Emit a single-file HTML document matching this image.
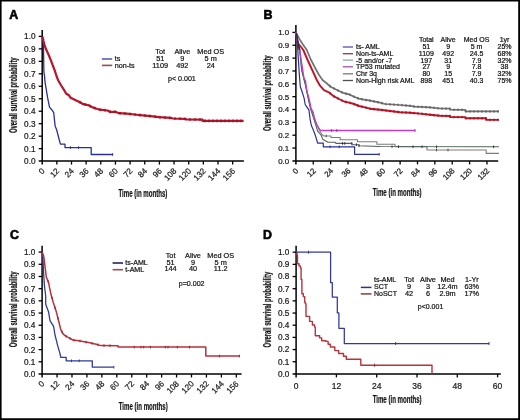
<!DOCTYPE html><html><head><meta charset="utf-8"><style>html,body{margin:0;padding:0;background:#fff;}#w{position:relative;width:520px;height:420px;overflow:hidden;}svg{display:block;will-change:transform;-webkit-font-smoothing:antialiased;}#m{filter:blur(0.45px);}#o{position:absolute;left:0;top:0;}</style></head><body><div id="w">
<svg id="m" width="520" height="420" viewBox="0 0 520 420" font-family='"Liberation Sans", sans-serif'>
<rect x="0" y="0" width="520" height="420" fill="#fff"/>
<text x="9.2" y="18.6" font-size="12.4" text-anchor="start" font-weight="bold" fill="#000" stroke="#000" stroke-width="0.6" >A</text>
<line x1="42.2" y1="30" x2="42.2" y2="164.6" stroke="#000" stroke-width="1.5"/>
<line x1="38.7" y1="161.1" x2="243.9" y2="161.1" stroke="#000" stroke-width="1.5"/>
<text x="35.5" y="164" font-size="8.2" text-anchor="end" font-weight="normal" fill="#1a1a1a" stroke="#1a1a1a" stroke-width="0.22" >0.0</text>
<line x1="38.7" y1="148.63" x2="42.2" y2="148.63" stroke="#000" stroke-width="1.3"/>
<text x="35.5" y="151.53" font-size="8.2" text-anchor="end" font-weight="normal" fill="#1a1a1a" stroke="#1a1a1a" stroke-width="0.22" >0.1</text>
<line x1="38.7" y1="136.16" x2="42.2" y2="136.16" stroke="#000" stroke-width="1.3"/>
<text x="35.5" y="139.06" font-size="8.2" text-anchor="end" font-weight="normal" fill="#1a1a1a" stroke="#1a1a1a" stroke-width="0.22" >0.2</text>
<line x1="38.7" y1="123.69" x2="42.2" y2="123.69" stroke="#000" stroke-width="1.3"/>
<text x="35.5" y="126.59" font-size="8.2" text-anchor="end" font-weight="normal" fill="#1a1a1a" stroke="#1a1a1a" stroke-width="0.22" >0.3</text>
<line x1="38.7" y1="111.22" x2="42.2" y2="111.22" stroke="#000" stroke-width="1.3"/>
<text x="35.5" y="114.12" font-size="8.2" text-anchor="end" font-weight="normal" fill="#1a1a1a" stroke="#1a1a1a" stroke-width="0.22" >0.4</text>
<line x1="38.7" y1="98.75" x2="42.2" y2="98.75" stroke="#000" stroke-width="1.3"/>
<text x="35.5" y="101.65" font-size="8.2" text-anchor="end" font-weight="normal" fill="#1a1a1a" stroke="#1a1a1a" stroke-width="0.22" >0.5</text>
<line x1="38.7" y1="86.28" x2="42.2" y2="86.28" stroke="#000" stroke-width="1.3"/>
<text x="35.5" y="89.18" font-size="8.2" text-anchor="end" font-weight="normal" fill="#1a1a1a" stroke="#1a1a1a" stroke-width="0.22" >0.6</text>
<line x1="38.7" y1="73.81" x2="42.2" y2="73.81" stroke="#000" stroke-width="1.3"/>
<text x="35.5" y="76.71" font-size="8.2" text-anchor="end" font-weight="normal" fill="#1a1a1a" stroke="#1a1a1a" stroke-width="0.22" >0.7</text>
<line x1="38.7" y1="61.34" x2="42.2" y2="61.34" stroke="#000" stroke-width="1.3"/>
<text x="35.5" y="64.24" font-size="8.2" text-anchor="end" font-weight="normal" fill="#1a1a1a" stroke="#1a1a1a" stroke-width="0.22" >0.8</text>
<line x1="38.7" y1="48.87" x2="42.2" y2="48.87" stroke="#000" stroke-width="1.3"/>
<text x="35.5" y="51.77" font-size="8.2" text-anchor="end" font-weight="normal" fill="#1a1a1a" stroke="#1a1a1a" stroke-width="0.22" >0.9</text>
<line x1="38.7" y1="36.4" x2="42.2" y2="36.4" stroke="#000" stroke-width="1.3"/>
<text x="35.5" y="39.3" font-size="8.2" text-anchor="end" font-weight="normal" fill="#1a1a1a" stroke="#1a1a1a" stroke-width="0.22" >1.0</text>
<text x="45.2" y="171.5" font-size="8.2" text-anchor="end" font-weight="normal" fill="#1a1a1a" stroke="#1a1a1a" stroke-width="0.22" transform="rotate(-45 45.2 171.5)">0</text>
<line x1="56.85" y1="161.1" x2="56.85" y2="164.6" stroke="#000" stroke-width="1.3"/>
<text x="59.85" y="171.5" font-size="8.2" text-anchor="end" font-weight="normal" fill="#1a1a1a" stroke="#1a1a1a" stroke-width="0.22" transform="rotate(-45 59.85 171.5)">12</text>
<line x1="71.5" y1="161.1" x2="71.5" y2="164.6" stroke="#000" stroke-width="1.3"/>
<text x="74.5" y="171.5" font-size="8.2" text-anchor="end" font-weight="normal" fill="#1a1a1a" stroke="#1a1a1a" stroke-width="0.22" transform="rotate(-45 74.5 171.5)">24</text>
<line x1="86.15" y1="161.1" x2="86.15" y2="164.6" stroke="#000" stroke-width="1.3"/>
<text x="89.15" y="171.5" font-size="8.2" text-anchor="end" font-weight="normal" fill="#1a1a1a" stroke="#1a1a1a" stroke-width="0.22" transform="rotate(-45 89.15 171.5)">36</text>
<line x1="100.8" y1="161.1" x2="100.8" y2="164.6" stroke="#000" stroke-width="1.3"/>
<text x="103.8" y="171.5" font-size="8.2" text-anchor="end" font-weight="normal" fill="#1a1a1a" stroke="#1a1a1a" stroke-width="0.22" transform="rotate(-45 103.8 171.5)">48</text>
<line x1="115.45" y1="161.1" x2="115.45" y2="164.6" stroke="#000" stroke-width="1.3"/>
<text x="118.45" y="171.5" font-size="8.2" text-anchor="end" font-weight="normal" fill="#1a1a1a" stroke="#1a1a1a" stroke-width="0.22" transform="rotate(-45 118.45 171.5)">60</text>
<line x1="130.1" y1="161.1" x2="130.1" y2="164.6" stroke="#000" stroke-width="1.3"/>
<text x="133.1" y="171.5" font-size="8.2" text-anchor="end" font-weight="normal" fill="#1a1a1a" stroke="#1a1a1a" stroke-width="0.22" transform="rotate(-45 133.1 171.5)">72</text>
<line x1="144.75" y1="161.1" x2="144.75" y2="164.6" stroke="#000" stroke-width="1.3"/>
<text x="147.75" y="171.5" font-size="8.2" text-anchor="end" font-weight="normal" fill="#1a1a1a" stroke="#1a1a1a" stroke-width="0.22" transform="rotate(-45 147.75 171.5)">84</text>
<line x1="159.4" y1="161.1" x2="159.4" y2="164.6" stroke="#000" stroke-width="1.3"/>
<text x="162.4" y="171.5" font-size="8.2" text-anchor="end" font-weight="normal" fill="#1a1a1a" stroke="#1a1a1a" stroke-width="0.22" transform="rotate(-45 162.4 171.5)">96</text>
<line x1="174.05" y1="161.1" x2="174.05" y2="164.6" stroke="#000" stroke-width="1.3"/>
<text x="177.05" y="171.5" font-size="8.2" text-anchor="end" font-weight="normal" fill="#1a1a1a" stroke="#1a1a1a" stroke-width="0.22" transform="rotate(-45 177.05 171.5)">108</text>
<line x1="188.7" y1="161.1" x2="188.7" y2="164.6" stroke="#000" stroke-width="1.3"/>
<text x="191.7" y="171.5" font-size="8.2" text-anchor="end" font-weight="normal" fill="#1a1a1a" stroke="#1a1a1a" stroke-width="0.22" transform="rotate(-45 191.7 171.5)">120</text>
<line x1="203.35" y1="161.1" x2="203.35" y2="164.6" stroke="#000" stroke-width="1.3"/>
<text x="206.35" y="171.5" font-size="8.2" text-anchor="end" font-weight="normal" fill="#1a1a1a" stroke="#1a1a1a" stroke-width="0.22" transform="rotate(-45 206.35 171.5)">132</text>
<line x1="218" y1="161.1" x2="218" y2="164.6" stroke="#000" stroke-width="1.3"/>
<text x="221" y="171.5" font-size="8.2" text-anchor="end" font-weight="normal" fill="#1a1a1a" stroke="#1a1a1a" stroke-width="0.22" transform="rotate(-45 221 171.5)">144</text>
<line x1="232.65" y1="161.1" x2="232.65" y2="164.6" stroke="#000" stroke-width="1.3"/>
<text x="235.65" y="171.5" font-size="8.2" text-anchor="end" font-weight="normal" fill="#1a1a1a" stroke="#1a1a1a" stroke-width="0.22" transform="rotate(-45 235.65 171.5)">156</text>
<text transform="translate(16.8 95.2) rotate(-90) scale(0.59 1)" x="0" y="0" font-size="10" font-weight="bold" text-anchor="middle" fill="#111" stroke="#111" stroke-width="0.2">Overall survival probability</text>
<text transform="translate(142.9 196.8) scale(0.61 1)" x="0" y="0" font-size="10" font-weight="bold" text-anchor="middle" fill="#111" stroke="#111" stroke-width="0.2">Time (in months)</text>
<polyline points="42.2,36.4 43.1,40 43.5,48 43.7,60 43.9,72 44.4,74.8 45.1,82.6 46.4,90.3 47.6,97.6 49.5,107.1 52.4,110.5 53.8,112.9 54.3,118.6 55.2,126.2 56.7,130 58.5,137 60.4,144.2 65,144.2 65,147.6 91.2,147.6 91.2,154.5 112.7,154.5" fill="none" stroke="#2b2f9c" stroke-width="1.3" stroke-linejoin="round" />
<line x1="70.4" y1="146.3" x2="70.4" y2="148.9" stroke="#2b2f9c" stroke-width="1.0"/>
<line x1="78.5" y1="146.3" x2="78.5" y2="148.9" stroke="#2b2f9c" stroke-width="1.0"/>
<line x1="112.7" y1="153.2" x2="112.7" y2="155.8" stroke="#2b2f9c" stroke-width="1.0"/>
<polyline points="42.2,36.4 43,38.5 43.4,40.8 44.6,45.5 46.5,50.3 48.7,55 51.1,60.8 52.8,65.5 54.7,70.3 56.5,76 58.4,80.8 61.2,85.5 64.3,90.3 66,93.5 68.9,95.2 70.6,97.8 74.7,99.8 80.5,102.5 83.3,104.2 88,105.1 92,107.1 96,108.5 99.8,109.7 107.5,110.5 109.8,111.8 115.2,111.8 119.1,113.2 126.8,113.7 134.5,114.5 140,115.05 150.6,116.1 159,117.2 170.7,117.9 172.8,118.5 184.4,118.8 186.6,119.4 202.5,119.6 202.5,120.9 243.6,120.9" fill="none" stroke="#b8142a" stroke-width="2.2" stroke-linejoin="round" />
<line x1="80" y1="100.77" x2="80" y2="103.77" stroke="#900c20" stroke-width="1"/>
<line x1="85" y1="103.03" x2="85" y2="106.03" stroke="#900c20" stroke-width="1"/>
<line x1="90" y1="104.6" x2="90" y2="107.6" stroke="#900c20" stroke-width="1"/>
<line x1="95" y1="106.65" x2="95" y2="109.65" stroke="#900c20" stroke-width="1"/>
<line x1="100" y1="108.22" x2="100" y2="111.22" stroke="#900c20" stroke-width="1"/>
<line x1="105" y1="108.74" x2="105" y2="111.74" stroke="#900c20" stroke-width="1"/>
<line x1="110" y1="110.3" x2="110" y2="113.3" stroke="#900c20" stroke-width="1"/>
<line x1="115" y1="110.3" x2="115" y2="113.3" stroke="#900c20" stroke-width="1"/>
<line x1="120" y1="111.76" x2="120" y2="114.76" stroke="#900c20" stroke-width="1"/>
<line x1="125" y1="112.08" x2="125" y2="115.08" stroke="#900c20" stroke-width="1"/>
<line x1="130" y1="112.53" x2="130" y2="115.53" stroke="#900c20" stroke-width="1"/>
<line x1="135" y1="113.05" x2="135" y2="116.05" stroke="#900c20" stroke-width="1"/>
<line x1="140" y1="113.55" x2="140" y2="116.55" stroke="#900c20" stroke-width="1"/>
<line x1="145" y1="114.05" x2="145" y2="117.05" stroke="#900c20" stroke-width="1"/>
<line x1="150" y1="114.54" x2="150" y2="117.54" stroke="#900c20" stroke-width="1"/>
<line x1="155" y1="115.18" x2="155" y2="118.18" stroke="#900c20" stroke-width="1"/>
<line x1="160" y1="115.76" x2="160" y2="118.76" stroke="#900c20" stroke-width="1"/>
<line x1="165" y1="116.06" x2="165" y2="119.06" stroke="#900c20" stroke-width="1"/>
<line x1="170" y1="116.36" x2="170" y2="119.36" stroke="#900c20" stroke-width="1"/>
<line x1="175" y1="117.06" x2="175" y2="120.06" stroke="#900c20" stroke-width="1"/>
<line x1="180" y1="117.19" x2="180" y2="120.19" stroke="#900c20" stroke-width="1"/>
<line x1="185" y1="117.46" x2="185" y2="120.46" stroke="#900c20" stroke-width="1"/>
<line x1="190" y1="117.94" x2="190" y2="120.94" stroke="#900c20" stroke-width="1"/>
<line x1="195" y1="118.01" x2="195" y2="121.01" stroke="#900c20" stroke-width="1"/>
<line x1="200" y1="118.07" x2="200" y2="121.07" stroke="#900c20" stroke-width="1"/>
<line x1="205" y1="119.4" x2="205" y2="122.4" stroke="#900c20" stroke-width="1"/>
<line x1="209" y1="119.4" x2="209" y2="122.4" stroke="#900c20" stroke-width="1"/>
<line x1="213" y1="119.4" x2="213" y2="122.4" stroke="#900c20" stroke-width="1"/>
<line x1="217" y1="119.4" x2="217" y2="122.4" stroke="#900c20" stroke-width="1"/>
<line x1="221" y1="119.4" x2="221" y2="122.4" stroke="#900c20" stroke-width="1"/>
<line x1="225" y1="119.4" x2="225" y2="122.4" stroke="#900c20" stroke-width="1"/>
<line x1="229" y1="119.4" x2="229" y2="122.4" stroke="#900c20" stroke-width="1"/>
<line x1="233" y1="119.4" x2="233" y2="122.4" stroke="#900c20" stroke-width="1"/>
<line x1="237" y1="119.4" x2="237" y2="122.4" stroke="#900c20" stroke-width="1"/>
<line x1="241" y1="119.4" x2="241" y2="122.4" stroke="#900c20" stroke-width="1"/>
<line x1="101.9" y1="59.0" x2="112.2" y2="59.0" stroke="#5a5ac0" stroke-width="1.6"/>
<line x1="101.9" y1="65.4" x2="112.2" y2="65.4" stroke="#9a4a4a" stroke-width="1.6"/>
<text x="114.7" y="61.3" font-size="7.2" text-anchor="start" font-weight="normal" fill="#151515" stroke="#151515" stroke-width="0.22" >ts</text>
<text x="114.7" y="67.8" font-size="7.2" text-anchor="start" font-weight="normal" fill="#151515" stroke="#151515" stroke-width="0.22" >non-ts</text>
<text x="160.2" y="53.5" font-size="7.3" text-anchor="middle" font-weight="normal" fill="#151515" stroke="#151515" stroke-width="0.22" >Tot</text>
<text x="182.3" y="53.5" font-size="7.3" text-anchor="middle" font-weight="normal" fill="#151515" stroke="#151515" stroke-width="0.22" >Alive</text>
<text x="210.7" y="53.5" font-size="7.3" text-anchor="middle" font-weight="normal" fill="#151515" stroke="#151515" stroke-width="0.22" >Med OS</text>
<text x="160.2" y="60.8" font-size="7.3" text-anchor="middle" font-weight="normal" fill="#151515" stroke="#151515" stroke-width="0.22" >51</text>
<text x="182.3" y="60.8" font-size="7.3" text-anchor="middle" font-weight="normal" fill="#151515" stroke="#151515" stroke-width="0.22" >9</text>
<text x="210.7" y="60.8" font-size="7.3" text-anchor="middle" font-weight="normal" fill="#151515" stroke="#151515" stroke-width="0.22" >5 m</text>
<text x="160.2" y="68.2" font-size="7.3" text-anchor="middle" font-weight="normal" fill="#151515" stroke="#151515" stroke-width="0.22" >1109</text>
<text x="182.3" y="68.2" font-size="7.3" text-anchor="middle" font-weight="normal" fill="#151515" stroke="#151515" stroke-width="0.22" >492</text>
<text x="210.7" y="68.2" font-size="7.3" text-anchor="middle" font-weight="normal" fill="#151515" stroke="#151515" stroke-width="0.22" >24</text>
<text x="168" y="81.3" font-size="7.1" text-anchor="start" font-weight="normal" fill="#151515" stroke="#151515" stroke-width="0.22" >p&lt; 0.001</text>
<text x="263.4" y="18.8" font-size="12.4" text-anchor="start" font-weight="bold" fill="#000" stroke="#000" stroke-width="0.6" >B</text>
<line x1="295.9" y1="25" x2="295.9" y2="164.4" stroke="#000" stroke-width="1.5"/>
<line x1="292.4" y1="160.9" x2="498.2" y2="160.9" stroke="#000" stroke-width="1.5"/>
<text x="289.2" y="163.8" font-size="7.9" text-anchor="end" font-weight="normal" fill="#1a1a1a" stroke="#1a1a1a" stroke-width="0.22" >0.0</text>
<line x1="292.4" y1="148.05" x2="295.9" y2="148.05" stroke="#000" stroke-width="1.3"/>
<text x="289.2" y="150.95" font-size="7.9" text-anchor="end" font-weight="normal" fill="#1a1a1a" stroke="#1a1a1a" stroke-width="0.22" >0.1</text>
<line x1="292.4" y1="135.2" x2="295.9" y2="135.2" stroke="#000" stroke-width="1.3"/>
<text x="289.2" y="138.1" font-size="7.9" text-anchor="end" font-weight="normal" fill="#1a1a1a" stroke="#1a1a1a" stroke-width="0.22" >0.2</text>
<line x1="292.4" y1="122.35" x2="295.9" y2="122.35" stroke="#000" stroke-width="1.3"/>
<text x="289.2" y="125.25" font-size="7.9" text-anchor="end" font-weight="normal" fill="#1a1a1a" stroke="#1a1a1a" stroke-width="0.22" >0.3</text>
<line x1="292.4" y1="109.5" x2="295.9" y2="109.5" stroke="#000" stroke-width="1.3"/>
<text x="289.2" y="112.4" font-size="7.9" text-anchor="end" font-weight="normal" fill="#1a1a1a" stroke="#1a1a1a" stroke-width="0.22" >0.4</text>
<line x1="292.4" y1="96.65" x2="295.9" y2="96.65" stroke="#000" stroke-width="1.3"/>
<text x="289.2" y="99.55" font-size="7.9" text-anchor="end" font-weight="normal" fill="#1a1a1a" stroke="#1a1a1a" stroke-width="0.22" >0.5</text>
<line x1="292.4" y1="83.8" x2="295.9" y2="83.8" stroke="#000" stroke-width="1.3"/>
<text x="289.2" y="86.7" font-size="7.9" text-anchor="end" font-weight="normal" fill="#1a1a1a" stroke="#1a1a1a" stroke-width="0.22" >0.6</text>
<line x1="292.4" y1="70.95" x2="295.9" y2="70.95" stroke="#000" stroke-width="1.3"/>
<text x="289.2" y="73.85" font-size="7.9" text-anchor="end" font-weight="normal" fill="#1a1a1a" stroke="#1a1a1a" stroke-width="0.22" >0.7</text>
<line x1="292.4" y1="58.1" x2="295.9" y2="58.1" stroke="#000" stroke-width="1.3"/>
<text x="289.2" y="61" font-size="7.9" text-anchor="end" font-weight="normal" fill="#1a1a1a" stroke="#1a1a1a" stroke-width="0.22" >0.8</text>
<line x1="292.4" y1="45.25" x2="295.9" y2="45.25" stroke="#000" stroke-width="1.3"/>
<text x="289.2" y="48.15" font-size="7.9" text-anchor="end" font-weight="normal" fill="#1a1a1a" stroke="#1a1a1a" stroke-width="0.22" >0.9</text>
<line x1="292.4" y1="32.4" x2="295.9" y2="32.4" stroke="#000" stroke-width="1.3"/>
<text x="289.2" y="35.3" font-size="7.9" text-anchor="end" font-weight="normal" fill="#1a1a1a" stroke="#1a1a1a" stroke-width="0.22" >1.0</text>
<text x="298.9" y="171.3" font-size="7.9" text-anchor="end" font-weight="normal" fill="#1a1a1a" stroke="#1a1a1a" stroke-width="0.22" transform="rotate(-45 298.9 171.3)">0</text>
<line x1="313.27" y1="160.9" x2="313.27" y2="164.4" stroke="#000" stroke-width="1.3"/>
<text x="316.27" y="171.3" font-size="7.9" text-anchor="end" font-weight="normal" fill="#1a1a1a" stroke="#1a1a1a" stroke-width="0.22" transform="rotate(-45 316.27 171.3)">12</text>
<line x1="330.64" y1="160.9" x2="330.64" y2="164.4" stroke="#000" stroke-width="1.3"/>
<text x="333.64" y="171.3" font-size="7.9" text-anchor="end" font-weight="normal" fill="#1a1a1a" stroke="#1a1a1a" stroke-width="0.22" transform="rotate(-45 333.64 171.3)">24</text>
<line x1="348.01" y1="160.9" x2="348.01" y2="164.4" stroke="#000" stroke-width="1.3"/>
<text x="351.01" y="171.3" font-size="7.9" text-anchor="end" font-weight="normal" fill="#1a1a1a" stroke="#1a1a1a" stroke-width="0.22" transform="rotate(-45 351.01 171.3)">36</text>
<line x1="365.38" y1="160.9" x2="365.38" y2="164.4" stroke="#000" stroke-width="1.3"/>
<text x="368.38" y="171.3" font-size="7.9" text-anchor="end" font-weight="normal" fill="#1a1a1a" stroke="#1a1a1a" stroke-width="0.22" transform="rotate(-45 368.38 171.3)">48</text>
<line x1="382.75" y1="160.9" x2="382.75" y2="164.4" stroke="#000" stroke-width="1.3"/>
<text x="385.75" y="171.3" font-size="7.9" text-anchor="end" font-weight="normal" fill="#1a1a1a" stroke="#1a1a1a" stroke-width="0.22" transform="rotate(-45 385.75 171.3)">60</text>
<line x1="400.12" y1="160.9" x2="400.12" y2="164.4" stroke="#000" stroke-width="1.3"/>
<text x="403.12" y="171.3" font-size="7.9" text-anchor="end" font-weight="normal" fill="#1a1a1a" stroke="#1a1a1a" stroke-width="0.22" transform="rotate(-45 403.12 171.3)">72</text>
<line x1="417.49" y1="160.9" x2="417.49" y2="164.4" stroke="#000" stroke-width="1.3"/>
<text x="420.49" y="171.3" font-size="7.9" text-anchor="end" font-weight="normal" fill="#1a1a1a" stroke="#1a1a1a" stroke-width="0.22" transform="rotate(-45 420.49 171.3)">84</text>
<line x1="434.86" y1="160.9" x2="434.86" y2="164.4" stroke="#000" stroke-width="1.3"/>
<text x="437.86" y="171.3" font-size="7.9" text-anchor="end" font-weight="normal" fill="#1a1a1a" stroke="#1a1a1a" stroke-width="0.22" transform="rotate(-45 437.86 171.3)">96</text>
<line x1="452.23" y1="160.9" x2="452.23" y2="164.4" stroke="#000" stroke-width="1.3"/>
<text x="455.23" y="171.3" font-size="7.9" text-anchor="end" font-weight="normal" fill="#1a1a1a" stroke="#1a1a1a" stroke-width="0.22" transform="rotate(-45 455.23 171.3)">108</text>
<line x1="469.6" y1="160.9" x2="469.6" y2="164.4" stroke="#000" stroke-width="1.3"/>
<text x="472.6" y="171.3" font-size="7.9" text-anchor="end" font-weight="normal" fill="#1a1a1a" stroke="#1a1a1a" stroke-width="0.22" transform="rotate(-45 472.6 171.3)">120</text>
<line x1="486.97" y1="160.9" x2="486.97" y2="164.4" stroke="#000" stroke-width="1.3"/>
<text x="489.97" y="171.3" font-size="7.9" text-anchor="end" font-weight="normal" fill="#1a1a1a" stroke="#1a1a1a" stroke-width="0.22" transform="rotate(-45 489.97 171.3)">132</text>
<text transform="translate(270.6 93.2) rotate(-90) scale(0.59 1)" x="0" y="0" font-size="10" font-weight="bold" text-anchor="middle" fill="#111" stroke="#111" stroke-width="0.2">Overall survival probability</text>
<text transform="translate(397.1 196.2) scale(0.61 1)" x="0" y="0" font-size="10" font-weight="bold" text-anchor="middle" fill="#111" stroke="#111" stroke-width="0.2">Time (in months)</text>
<polyline points="295.9,32.4 299.7,39.4 302.6,44 306.8,50 311,60 316.3,70 319.1,75 322.5,80 326.3,83 331,87 334,88.5 339,90.9 344,93.2 349,94.3 354,96.7 359,98.6 364,99.7 370,100.6 380,102.6 385,104 400,105 410,105.8 415,106.6 430,107.4 440,108.5 450,108.7 450,109.7 465.4,109.8 465.4,111.4 498.9,111.4" fill="none" stroke="#727272" stroke-width="1.7" stroke-linejoin="round" />
<polyline points="296.2,35 296.9,40 298.2,43.5 300.3,46 303.3,50 307.6,60 312.2,70 316.8,80 320,85.7 324,90.2 328.8,92.3 334,96.4 339,99 344,101.5 349,102.6 354,104 359,106 364,107.2 370,108.7 380,109.8 390,111 400,112.2 410,112.7 420,113.6 430,114.7 440,115.8 450,116 450,117 465.4,117.1 465.4,118.2 486.1,118.3 486.1,119.9 498.9,119.9" fill="none" stroke="#c0142a" stroke-width="1.9" stroke-linejoin="round" />
<polyline points="295.9,32.4 297.5,45 298.4,60 299.3,74.3 300.3,86.7 301.7,90.5 304.1,98.1 305.2,104.5 307.1,107.4 309,110.2 310,118.8 311.4,125.5 313.8,131.2 315.2,135 317.7,143.2 323.3,143.2 323.3,146.8 354.6,146.8 354.6,154.3 379.2,154.3" fill="none" stroke="#2b2f9c" stroke-width="1.2" stroke-linejoin="round" />
<polyline points="295.9,32.4 297.8,42 300,50 301.9,70 305.5,84.3 309.1,101.4 310.8,108.3 312.8,112.6 316,122 319,130 322,134.5 324,136 331,136 331,137.5 340.2,137.5 340.2,139.7 357.5,139.7 357.5,141.8 376.9,141.8 376.9,144.2 395,144.2 395,146.6 427,146.6 427,150 486.2,150 486.2,153.4 498.9,153.4" fill="none" stroke="#7c7c7c" stroke-width="1.1" stroke-linejoin="round" />
<polyline points="295.9,32.4 297.6,42 299.6,50 301.6,70 305.2,84.3 308.8,101.4 310.4,108.3 312.6,115 315.5,124 317.6,131.2 321,135 323,139.6 328,142.2 335,142.2 336,143.4 352,143.4 352,144.7 359,144.7 359,145.8 380,146.5 498.9,146.8" fill="none" stroke="#4f6354" stroke-width="1.1" stroke-linejoin="round" />
<polyline points="295.9,32.4 297.5,42 299.1,46.9 301.2,60 302.7,69.5 304.1,79 305.5,80.5 306.5,88.6 307.9,95.2 308.1,95 309.5,100.7 311,108.3 313.3,112.6 314.3,118.8 316.7,124.5 320.5,130.5 415,130.5" fill="none" stroke="#c43cc4" stroke-width="1.3" stroke-linejoin="round" />
<polyline points="296.2,33 297.2,38 298.3,44 299.5,50" fill="none" stroke="#3a2a40" stroke-width="1.6"/>
<line x1="330" y1="84.85" x2="330" y2="87.45" stroke="#5a5a5a" stroke-width="1.0"/>
<line x1="334" y1="87.2" x2="334" y2="89.8" stroke="#5a5a5a" stroke-width="1.0"/>
<line x1="338" y1="89.12" x2="338" y2="91.72" stroke="#5a5a5a" stroke-width="1.0"/>
<line x1="342" y1="90.98" x2="342" y2="93.58" stroke="#5a5a5a" stroke-width="1.0"/>
<line x1="346" y1="92.34" x2="346" y2="94.94" stroke="#5a5a5a" stroke-width="1.0"/>
<line x1="350" y1="93.48" x2="350" y2="96.08" stroke="#5a5a5a" stroke-width="1.0"/>
<line x1="354" y1="95.4" x2="354" y2="98" stroke="#5a5a5a" stroke-width="1.0"/>
<line x1="358" y1="96.92" x2="358" y2="99.52" stroke="#5a5a5a" stroke-width="1.0"/>
<line x1="362" y1="97.96" x2="362" y2="100.56" stroke="#5a5a5a" stroke-width="1.0"/>
<line x1="366" y1="98.7" x2="366" y2="101.3" stroke="#5a5a5a" stroke-width="1.0"/>
<line x1="370" y1="99.3" x2="370" y2="101.9" stroke="#5a5a5a" stroke-width="1.0"/>
<line x1="374" y1="100.1" x2="374" y2="102.7" stroke="#5a5a5a" stroke-width="1.0"/>
<line x1="378" y1="100.9" x2="378" y2="103.5" stroke="#5a5a5a" stroke-width="1.0"/>
<line x1="382" y1="101.86" x2="382" y2="104.46" stroke="#5a5a5a" stroke-width="1.0"/>
<line x1="386" y1="102.77" x2="386" y2="105.37" stroke="#5a5a5a" stroke-width="1.0"/>
<line x1="390" y1="103.03" x2="390" y2="105.63" stroke="#5a5a5a" stroke-width="1.0"/>
<line x1="394" y1="103.3" x2="394" y2="105.9" stroke="#5a5a5a" stroke-width="1.0"/>
<line x1="398" y1="103.57" x2="398" y2="106.17" stroke="#5a5a5a" stroke-width="1.0"/>
<line x1="402" y1="103.86" x2="402" y2="106.46" stroke="#5a5a5a" stroke-width="1.0"/>
<line x1="406" y1="104.18" x2="406" y2="106.78" stroke="#5a5a5a" stroke-width="1.0"/>
<line x1="410" y1="104.5" x2="410" y2="107.1" stroke="#5a5a5a" stroke-width="1.0"/>
<line x1="414" y1="105.14" x2="414" y2="107.74" stroke="#5a5a5a" stroke-width="1.0"/>
<line x1="418" y1="105.46" x2="418" y2="108.06" stroke="#5a5a5a" stroke-width="1.0"/>
<line x1="422" y1="105.67" x2="422" y2="108.27" stroke="#5a5a5a" stroke-width="1.0"/>
<line x1="426" y1="105.89" x2="426" y2="108.49" stroke="#5a5a5a" stroke-width="1.0"/>
<line x1="430" y1="106.1" x2="430" y2="108.7" stroke="#5a5a5a" stroke-width="1.0"/>
<line x1="434" y1="106.54" x2="434" y2="109.14" stroke="#5a5a5a" stroke-width="1.0"/>
<line x1="438" y1="106.98" x2="438" y2="109.58" stroke="#5a5a5a" stroke-width="1.0"/>
<line x1="442" y1="107.24" x2="442" y2="109.84" stroke="#5a5a5a" stroke-width="1.0"/>
<line x1="446" y1="107.32" x2="446" y2="109.92" stroke="#5a5a5a" stroke-width="1.0"/>
<line x1="450" y1="107.4" x2="450" y2="110" stroke="#5a5a5a" stroke-width="1.0"/>
<line x1="454" y1="108.43" x2="454" y2="111.03" stroke="#5a5a5a" stroke-width="1.0"/>
<line x1="458" y1="108.45" x2="458" y2="111.05" stroke="#5a5a5a" stroke-width="1.0"/>
<line x1="462" y1="108.48" x2="462" y2="111.08" stroke="#5a5a5a" stroke-width="1.0"/>
<line x1="466" y1="110.1" x2="466" y2="112.7" stroke="#5a5a5a" stroke-width="1.0"/>
<line x1="470" y1="110.1" x2="470" y2="112.7" stroke="#5a5a5a" stroke-width="1.0"/>
<line x1="474" y1="110.1" x2="474" y2="112.7" stroke="#5a5a5a" stroke-width="1.0"/>
<line x1="478" y1="110.1" x2="478" y2="112.7" stroke="#5a5a5a" stroke-width="1.0"/>
<line x1="482" y1="110.1" x2="482" y2="112.7" stroke="#5a5a5a" stroke-width="1.0"/>
<line x1="486" y1="110.1" x2="486" y2="112.7" stroke="#5a5a5a" stroke-width="1.0"/>
<line x1="490" y1="110.1" x2="490" y2="112.7" stroke="#5a5a5a" stroke-width="1.0"/>
<line x1="494" y1="110.1" x2="494" y2="112.7" stroke="#5a5a5a" stroke-width="1.0"/>
<line x1="498" y1="110.1" x2="498" y2="112.7" stroke="#5a5a5a" stroke-width="1.0"/>
<line x1="330" y1="91.95" x2="330" y2="94.55" stroke="#a0101a" stroke-width="1.0"/>
<line x1="334" y1="95.1" x2="334" y2="97.7" stroke="#a0101a" stroke-width="1.0"/>
<line x1="338" y1="97.18" x2="338" y2="99.78" stroke="#a0101a" stroke-width="1.0"/>
<line x1="342" y1="99.2" x2="342" y2="101.8" stroke="#a0101a" stroke-width="1.0"/>
<line x1="346" y1="100.64" x2="346" y2="103.24" stroke="#a0101a" stroke-width="1.0"/>
<line x1="350" y1="101.58" x2="350" y2="104.18" stroke="#a0101a" stroke-width="1.0"/>
<line x1="354" y1="102.7" x2="354" y2="105.3" stroke="#a0101a" stroke-width="1.0"/>
<line x1="358" y1="104.3" x2="358" y2="106.9" stroke="#a0101a" stroke-width="1.0"/>
<line x1="362" y1="105.42" x2="362" y2="108.02" stroke="#a0101a" stroke-width="1.0"/>
<line x1="366" y1="106.4" x2="366" y2="109" stroke="#a0101a" stroke-width="1.0"/>
<line x1="370" y1="107.4" x2="370" y2="110" stroke="#a0101a" stroke-width="1.0"/>
<line x1="374" y1="107.84" x2="374" y2="110.44" stroke="#a0101a" stroke-width="1.0"/>
<line x1="378" y1="108.28" x2="378" y2="110.88" stroke="#a0101a" stroke-width="1.0"/>
<line x1="382" y1="108.74" x2="382" y2="111.34" stroke="#a0101a" stroke-width="1.0"/>
<line x1="386" y1="109.22" x2="386" y2="111.82" stroke="#a0101a" stroke-width="1.0"/>
<line x1="390" y1="109.7" x2="390" y2="112.3" stroke="#a0101a" stroke-width="1.0"/>
<line x1="394" y1="110.18" x2="394" y2="112.78" stroke="#a0101a" stroke-width="1.0"/>
<line x1="398" y1="110.66" x2="398" y2="113.26" stroke="#a0101a" stroke-width="1.0"/>
<line x1="402" y1="111" x2="402" y2="113.6" stroke="#a0101a" stroke-width="1.0"/>
<line x1="406" y1="111.2" x2="406" y2="113.8" stroke="#a0101a" stroke-width="1.0"/>
<line x1="410" y1="111.4" x2="410" y2="114" stroke="#a0101a" stroke-width="1.0"/>
<line x1="414" y1="111.76" x2="414" y2="114.36" stroke="#a0101a" stroke-width="1.0"/>
<line x1="418" y1="112.12" x2="418" y2="114.72" stroke="#a0101a" stroke-width="1.0"/>
<line x1="422" y1="112.52" x2="422" y2="115.12" stroke="#a0101a" stroke-width="1.0"/>
<line x1="426" y1="112.96" x2="426" y2="115.56" stroke="#a0101a" stroke-width="1.0"/>
<line x1="430" y1="113.4" x2="430" y2="116" stroke="#a0101a" stroke-width="1.0"/>
<line x1="434" y1="113.84" x2="434" y2="116.44" stroke="#a0101a" stroke-width="1.0"/>
<line x1="438" y1="114.28" x2="438" y2="116.88" stroke="#a0101a" stroke-width="1.0"/>
<line x1="442" y1="114.54" x2="442" y2="117.14" stroke="#a0101a" stroke-width="1.0"/>
<line x1="446" y1="114.62" x2="446" y2="117.22" stroke="#a0101a" stroke-width="1.0"/>
<line x1="450" y1="114.7" x2="450" y2="117.3" stroke="#a0101a" stroke-width="1.0"/>
<line x1="454" y1="115.73" x2="454" y2="118.33" stroke="#a0101a" stroke-width="1.0"/>
<line x1="458" y1="115.75" x2="458" y2="118.35" stroke="#a0101a" stroke-width="1.0"/>
<line x1="462" y1="115.78" x2="462" y2="118.38" stroke="#a0101a" stroke-width="1.0"/>
<line x1="466" y1="116.9" x2="466" y2="119.5" stroke="#a0101a" stroke-width="1.0"/>
<line x1="470" y1="116.92" x2="470" y2="119.52" stroke="#a0101a" stroke-width="1.0"/>
<line x1="474" y1="116.94" x2="474" y2="119.54" stroke="#a0101a" stroke-width="1.0"/>
<line x1="478" y1="116.96" x2="478" y2="119.56" stroke="#a0101a" stroke-width="1.0"/>
<line x1="482" y1="116.98" x2="482" y2="119.58" stroke="#a0101a" stroke-width="1.0"/>
<line x1="486" y1="117" x2="486" y2="119.6" stroke="#a0101a" stroke-width="1.0"/>
<line x1="490" y1="118.6" x2="490" y2="121.2" stroke="#a0101a" stroke-width="1.0"/>
<line x1="494" y1="118.6" x2="494" y2="121.2" stroke="#a0101a" stroke-width="1.0"/>
<line x1="498" y1="118.6" x2="498" y2="121.2" stroke="#a0101a" stroke-width="1.0"/>
<line x1="331.6" y1="129.2" x2="331.6" y2="131.8" stroke="#a020a0" stroke-width="1.0"/>
<line x1="336.8" y1="129.2" x2="336.8" y2="131.8" stroke="#a020a0" stroke-width="1.0"/>
<line x1="415" y1="129.2" x2="415" y2="131.8" stroke="#a020a0" stroke-width="1.0"/>
<line x1="330.1" y1="145.5" x2="330.1" y2="148.1" stroke="#2b2f9c" stroke-width="1.0"/>
<line x1="339.3" y1="145.5" x2="339.3" y2="148.1" stroke="#2b2f9c" stroke-width="1.0"/>
<line x1="379.2" y1="153" x2="379.2" y2="155.6" stroke="#2b2f9c" stroke-width="1.0"/>
<line x1="342.5" y1="142.1" x2="342.5" y2="144.7" stroke="#333" stroke-width="1.0"/>
<line x1="344.8" y1="142.1" x2="344.8" y2="144.7" stroke="#333" stroke-width="1.0"/>
<line x1="351.8" y1="142.1" x2="351.8" y2="144.7" stroke="#333" stroke-width="1.0"/>
<line x1="356.4" y1="143.4" x2="356.4" y2="146" stroke="#333" stroke-width="1.0"/>
<line x1="359" y1="144.5" x2="359" y2="147.1" stroke="#333" stroke-width="1.0"/>
<line x1="392" y1="145.3" x2="392" y2="147.9" stroke="#333" stroke-width="1.0"/>
<line x1="398.5" y1="145.3" x2="398.5" y2="147.9" stroke="#333" stroke-width="1.0"/>
<line x1="413" y1="145.5" x2="413" y2="148.1" stroke="#333" stroke-width="1.0"/>
<line x1="422" y1="145.5" x2="422" y2="148.1" stroke="#333" stroke-width="1.0"/>
<line x1="436.5" y1="145.5" x2="436.5" y2="148.1" stroke="#333" stroke-width="1.0"/>
<line x1="493.6" y1="145.5" x2="493.6" y2="148.1" stroke="#333" stroke-width="1.0"/>
<line x1="326.2" y1="134.7" x2="326.2" y2="137.3" stroke="#444" stroke-width="1.0"/>
<line x1="436.5" y1="148.7" x2="436.5" y2="151.3" stroke="#444" stroke-width="1.0"/>
<line x1="448" y1="148.7" x2="448" y2="151.3" stroke="#444" stroke-width="1.0"/>
<line x1="342.8" y1="47.0" x2="353" y2="47.0" stroke="#5252b4" stroke-width="1.3"/>
<line x1="342.8" y1="53.7" x2="353" y2="53.7" stroke="#8a3a4a" stroke-width="1.3"/>
<line x1="342.8" y1="60.1" x2="353" y2="60.1" stroke="#86b090" stroke-width="1.3"/>
<line x1="342.8" y1="66.8" x2="353" y2="66.8" stroke="#a850a8" stroke-width="1.3"/>
<line x1="342.8" y1="73.8" x2="353" y2="73.8" stroke="#8a7080" stroke-width="1.3"/>
<line x1="342.8" y1="80.5" x2="353" y2="80.5" stroke="#505050" stroke-width="1.3"/>
<text x="356" y="49" font-size="7" text-anchor="start" font-weight="normal" fill="#151515" stroke="#151515" stroke-width="0.22" >ts- AML</text>
<text x="356" y="55.8" font-size="7" text-anchor="start" font-weight="normal" fill="#151515" stroke="#151515" stroke-width="0.22" >Non-ts-AML</text>
<text x="356" y="62.6" font-size="7" text-anchor="start" font-weight="normal" fill="#151515" stroke="#151515" stroke-width="0.22" >-5 and/or -7</text>
<text x="356" y="69.4" font-size="7" text-anchor="start" font-weight="normal" fill="#151515" stroke="#151515" stroke-width="0.22" >TP53 mutated</text>
<text x="356" y="76.2" font-size="7" text-anchor="start" font-weight="normal" fill="#151515" stroke="#151515" stroke-width="0.22" >Chr 3q</text>
<text x="356" y="83" font-size="7" text-anchor="start" font-weight="normal" fill="#151515" stroke="#151515" stroke-width="0.22" >Non-High risk AML</text>
<text x="426.3" y="42" font-size="7" text-anchor="middle" font-weight="normal" fill="#151515" stroke="#151515" stroke-width="0.22" >Total</text>
<text x="448.2" y="42" font-size="7" text-anchor="middle" font-weight="normal" fill="#151515" stroke="#151515" stroke-width="0.22" >Alive</text>
<text x="476.5" y="42" font-size="7" text-anchor="middle" font-weight="normal" fill="#151515" stroke="#151515" stroke-width="0.22" >Med OS</text>
<text x="504.5" y="42" font-size="7" text-anchor="middle" font-weight="normal" fill="#151515" stroke="#151515" stroke-width="0.22" >1yr</text>
<text x="426.3" y="49" font-size="7" text-anchor="middle" font-weight="normal" fill="#151515" stroke="#151515" stroke-width="0.22" >51</text>
<text x="448.2" y="49" font-size="7" text-anchor="middle" font-weight="normal" fill="#151515" stroke="#151515" stroke-width="0.22" >9</text>
<text x="476.5" y="49" font-size="7" text-anchor="middle" font-weight="normal" fill="#151515" stroke="#151515" stroke-width="0.22" >5 m</text>
<text x="504.5" y="49" font-size="7" text-anchor="middle" font-weight="normal" fill="#151515" stroke="#151515" stroke-width="0.22" >25%</text>
<text x="426.3" y="55.8" font-size="7" text-anchor="middle" font-weight="normal" fill="#151515" stroke="#151515" stroke-width="0.22" >1109</text>
<text x="448.2" y="55.8" font-size="7" text-anchor="middle" font-weight="normal" fill="#151515" stroke="#151515" stroke-width="0.22" >492</text>
<text x="476.5" y="55.8" font-size="7" text-anchor="middle" font-weight="normal" fill="#151515" stroke="#151515" stroke-width="0.22" >24.5</text>
<text x="504.5" y="55.8" font-size="7" text-anchor="middle" font-weight="normal" fill="#151515" stroke="#151515" stroke-width="0.22" >68%</text>
<text x="426.3" y="62.6" font-size="7" text-anchor="middle" font-weight="normal" fill="#151515" stroke="#151515" stroke-width="0.22" >197</text>
<text x="448.2" y="62.6" font-size="7" text-anchor="middle" font-weight="normal" fill="#151515" stroke="#151515" stroke-width="0.22" >31</text>
<text x="476.5" y="62.6" font-size="7" text-anchor="middle" font-weight="normal" fill="#151515" stroke="#151515" stroke-width="0.22" >7.9</text>
<text x="504.5" y="62.6" font-size="7" text-anchor="middle" font-weight="normal" fill="#151515" stroke="#151515" stroke-width="0.22" >32%</text>
<text x="426.3" y="69.4" font-size="7" text-anchor="middle" font-weight="normal" fill="#151515" stroke="#151515" stroke-width="0.22" >27</text>
<text x="448.2" y="69.4" font-size="7" text-anchor="middle" font-weight="normal" fill="#151515" stroke="#151515" stroke-width="0.22" >9</text>
<text x="476.5" y="69.4" font-size="7" text-anchor="middle" font-weight="normal" fill="#151515" stroke="#151515" stroke-width="0.22" >7.8</text>
<text x="504.5" y="69.4" font-size="7" text-anchor="middle" font-weight="normal" fill="#151515" stroke="#151515" stroke-width="0.22" >38</text>
<text x="426.3" y="76.2" font-size="7" text-anchor="middle" font-weight="normal" fill="#151515" stroke="#151515" stroke-width="0.22" >80</text>
<text x="448.2" y="76.2" font-size="7" text-anchor="middle" font-weight="normal" fill="#151515" stroke="#151515" stroke-width="0.22" >15</text>
<text x="476.5" y="76.2" font-size="7" text-anchor="middle" font-weight="normal" fill="#151515" stroke="#151515" stroke-width="0.22" >7.9</text>
<text x="504.5" y="76.2" font-size="7" text-anchor="middle" font-weight="normal" fill="#151515" stroke="#151515" stroke-width="0.22" >32%</text>
<text x="426.3" y="83" font-size="7" text-anchor="middle" font-weight="normal" fill="#151515" stroke="#151515" stroke-width="0.22" >898</text>
<text x="448.2" y="83" font-size="7" text-anchor="middle" font-weight="normal" fill="#151515" stroke="#151515" stroke-width="0.22" >451</text>
<text x="476.5" y="83" font-size="7" text-anchor="middle" font-weight="normal" fill="#151515" stroke="#151515" stroke-width="0.22" >40.3</text>
<text x="504.5" y="83" font-size="7" text-anchor="middle" font-weight="normal" fill="#151515" stroke="#151515" stroke-width="0.22" >75%</text>
<text x="10" y="238.6" font-size="12.4" text-anchor="start" font-weight="bold" fill="#000" stroke="#000" stroke-width="0.6" >C</text>
<line x1="42.1" y1="245.7" x2="42.1" y2="377.5" stroke="#000" stroke-width="1.5"/>
<line x1="38.6" y1="374" x2="241.6" y2="374" stroke="#000" stroke-width="1.5"/>
<text x="35.4" y="376.9" font-size="8.2" text-anchor="end" font-weight="normal" fill="#1a1a1a" stroke="#1a1a1a" stroke-width="0.22" >0.0</text>
<line x1="38.6" y1="361.81" x2="42.1" y2="361.81" stroke="#000" stroke-width="1.3"/>
<text x="35.4" y="364.71" font-size="8.2" text-anchor="end" font-weight="normal" fill="#1a1a1a" stroke="#1a1a1a" stroke-width="0.22" >0.1</text>
<line x1="38.6" y1="349.62" x2="42.1" y2="349.62" stroke="#000" stroke-width="1.3"/>
<text x="35.4" y="352.52" font-size="8.2" text-anchor="end" font-weight="normal" fill="#1a1a1a" stroke="#1a1a1a" stroke-width="0.22" >0.2</text>
<line x1="38.6" y1="337.43" x2="42.1" y2="337.43" stroke="#000" stroke-width="1.3"/>
<text x="35.4" y="340.33" font-size="8.2" text-anchor="end" font-weight="normal" fill="#1a1a1a" stroke="#1a1a1a" stroke-width="0.22" >0.3</text>
<line x1="38.6" y1="325.24" x2="42.1" y2="325.24" stroke="#000" stroke-width="1.3"/>
<text x="35.4" y="328.14" font-size="8.2" text-anchor="end" font-weight="normal" fill="#1a1a1a" stroke="#1a1a1a" stroke-width="0.22" >0.4</text>
<line x1="38.6" y1="313.05" x2="42.1" y2="313.05" stroke="#000" stroke-width="1.3"/>
<text x="35.4" y="315.95" font-size="8.2" text-anchor="end" font-weight="normal" fill="#1a1a1a" stroke="#1a1a1a" stroke-width="0.22" >0.5</text>
<line x1="38.6" y1="300.86" x2="42.1" y2="300.86" stroke="#000" stroke-width="1.3"/>
<text x="35.4" y="303.76" font-size="8.2" text-anchor="end" font-weight="normal" fill="#1a1a1a" stroke="#1a1a1a" stroke-width="0.22" >0.6</text>
<line x1="38.6" y1="288.67" x2="42.1" y2="288.67" stroke="#000" stroke-width="1.3"/>
<text x="35.4" y="291.57" font-size="8.2" text-anchor="end" font-weight="normal" fill="#1a1a1a" stroke="#1a1a1a" stroke-width="0.22" >0.7</text>
<line x1="38.6" y1="276.48" x2="42.1" y2="276.48" stroke="#000" stroke-width="1.3"/>
<text x="35.4" y="279.38" font-size="8.2" text-anchor="end" font-weight="normal" fill="#1a1a1a" stroke="#1a1a1a" stroke-width="0.22" >0.8</text>
<line x1="38.6" y1="264.29" x2="42.1" y2="264.29" stroke="#000" stroke-width="1.3"/>
<text x="35.4" y="267.19" font-size="8.2" text-anchor="end" font-weight="normal" fill="#1a1a1a" stroke="#1a1a1a" stroke-width="0.22" >0.9</text>
<line x1="38.6" y1="252.1" x2="42.1" y2="252.1" stroke="#000" stroke-width="1.3"/>
<text x="35.4" y="255" font-size="8.2" text-anchor="end" font-weight="normal" fill="#1a1a1a" stroke="#1a1a1a" stroke-width="0.22" >1.0</text>
<text x="45.1" y="384.4" font-size="8.2" text-anchor="end" font-weight="normal" fill="#1a1a1a" stroke="#1a1a1a" stroke-width="0.22" transform="rotate(-45 45.1 384.4)">0</text>
<line x1="57.04" y1="374" x2="57.04" y2="377.5" stroke="#000" stroke-width="1.3"/>
<text x="60.04" y="384.4" font-size="8.2" text-anchor="end" font-weight="normal" fill="#1a1a1a" stroke="#1a1a1a" stroke-width="0.22" transform="rotate(-45 60.04 384.4)">12</text>
<line x1="71.98" y1="374" x2="71.98" y2="377.5" stroke="#000" stroke-width="1.3"/>
<text x="74.98" y="384.4" font-size="8.2" text-anchor="end" font-weight="normal" fill="#1a1a1a" stroke="#1a1a1a" stroke-width="0.22" transform="rotate(-45 74.98 384.4)">24</text>
<line x1="86.92" y1="374" x2="86.92" y2="377.5" stroke="#000" stroke-width="1.3"/>
<text x="89.92" y="384.4" font-size="8.2" text-anchor="end" font-weight="normal" fill="#1a1a1a" stroke="#1a1a1a" stroke-width="0.22" transform="rotate(-45 89.92 384.4)">36</text>
<line x1="101.86" y1="374" x2="101.86" y2="377.5" stroke="#000" stroke-width="1.3"/>
<text x="104.86" y="384.4" font-size="8.2" text-anchor="end" font-weight="normal" fill="#1a1a1a" stroke="#1a1a1a" stroke-width="0.22" transform="rotate(-45 104.86 384.4)">48</text>
<line x1="116.8" y1="374" x2="116.8" y2="377.5" stroke="#000" stroke-width="1.3"/>
<text x="119.8" y="384.4" font-size="8.2" text-anchor="end" font-weight="normal" fill="#1a1a1a" stroke="#1a1a1a" stroke-width="0.22" transform="rotate(-45 119.8 384.4)">60</text>
<line x1="131.74" y1="374" x2="131.74" y2="377.5" stroke="#000" stroke-width="1.3"/>
<text x="134.74" y="384.4" font-size="8.2" text-anchor="end" font-weight="normal" fill="#1a1a1a" stroke="#1a1a1a" stroke-width="0.22" transform="rotate(-45 134.74 384.4)">72</text>
<line x1="146.68" y1="374" x2="146.68" y2="377.5" stroke="#000" stroke-width="1.3"/>
<text x="149.68" y="384.4" font-size="8.2" text-anchor="end" font-weight="normal" fill="#1a1a1a" stroke="#1a1a1a" stroke-width="0.22" transform="rotate(-45 149.68 384.4)">84</text>
<line x1="161.62" y1="374" x2="161.62" y2="377.5" stroke="#000" stroke-width="1.3"/>
<text x="164.62" y="384.4" font-size="8.2" text-anchor="end" font-weight="normal" fill="#1a1a1a" stroke="#1a1a1a" stroke-width="0.22" transform="rotate(-45 164.62 384.4)">96</text>
<line x1="176.56" y1="374" x2="176.56" y2="377.5" stroke="#000" stroke-width="1.3"/>
<text x="179.56" y="384.4" font-size="8.2" text-anchor="end" font-weight="normal" fill="#1a1a1a" stroke="#1a1a1a" stroke-width="0.22" transform="rotate(-45 179.56 384.4)">108</text>
<line x1="191.5" y1="374" x2="191.5" y2="377.5" stroke="#000" stroke-width="1.3"/>
<text x="194.5" y="384.4" font-size="8.2" text-anchor="end" font-weight="normal" fill="#1a1a1a" stroke="#1a1a1a" stroke-width="0.22" transform="rotate(-45 194.5 384.4)">120</text>
<line x1="206.44" y1="374" x2="206.44" y2="377.5" stroke="#000" stroke-width="1.3"/>
<text x="209.44" y="384.4" font-size="8.2" text-anchor="end" font-weight="normal" fill="#1a1a1a" stroke="#1a1a1a" stroke-width="0.22" transform="rotate(-45 209.44 384.4)">132</text>
<line x1="221.38" y1="374" x2="221.38" y2="377.5" stroke="#000" stroke-width="1.3"/>
<text x="224.38" y="384.4" font-size="8.2" text-anchor="end" font-weight="normal" fill="#1a1a1a" stroke="#1a1a1a" stroke-width="0.22" transform="rotate(-45 224.38 384.4)">144</text>
<line x1="236.32" y1="374" x2="236.32" y2="377.5" stroke="#000" stroke-width="1.3"/>
<text x="239.32" y="384.4" font-size="8.2" text-anchor="end" font-weight="normal" fill="#1a1a1a" stroke="#1a1a1a" stroke-width="0.22" transform="rotate(-45 239.32 384.4)">156</text>
<text transform="translate(16.8 309.4) rotate(-90) scale(0.59 1)" x="0" y="0" font-size="10" font-weight="bold" text-anchor="middle" fill="#111" stroke="#111" stroke-width="0.2">Overall survival probability</text>
<text transform="translate(143.2 409.7) scale(0.61 1)" x="0" y="0" font-size="10" font-weight="bold" text-anchor="middle" fill="#111" stroke="#111" stroke-width="0.2">Time (in months)</text>
<polyline points="42.1,252.1 43,258 43.4,270 44.5,286.5 45.7,296 45.7,304.3 48.6,312.1 50,320.7 53.6,326.4 55,335 56.9,342.3 57.1,343.6 60,353.6 60.8,357.4 66.2,357.4 66.2,360.8 92.3,360.8 92.3,367.2 113.8,367.2" fill="none" stroke="#2f3a9a" stroke-width="1.3" stroke-linejoin="round" />
<line x1="71.5" y1="359.5" x2="71.5" y2="362.1" stroke="#2f3a9a" stroke-width="1.0"/>
<line x1="79.2" y1="359.5" x2="79.2" y2="362.1" stroke="#2f3a9a" stroke-width="1.0"/>
<line x1="113.8" y1="365.9" x2="113.8" y2="368.5" stroke="#2f3a9a" stroke-width="1.0"/>
<polyline points="42.1,252.1 43.2,254.5 44,258 45.1,267.4 46.3,277 48.7,282.9 49.3,286.4 51.1,294.8 53.6,303.6 56.4,312.1 58.6,320.7 60.7,329.3 62.9,333.6 65,335.7 68.6,337.6 72.9,340 78.6,340.7 82.9,341.4 88.5,342.6 96.2,344.2 100.8,345.6 118.1,345.8 118.1,347.1 205.8,347.1 205.8,356.1 239.5,356.1" fill="none" stroke="#b8323c" stroke-width="1.5" stroke-linejoin="round" />
<line x1="48" y1="279.88" x2="48" y2="282.48" stroke="#9a2030" stroke-width="1.0"/>
<line x1="52" y1="296.67" x2="52" y2="299.27" stroke="#9a2030" stroke-width="1.0"/>
<line x1="55" y1="306.55" x2="55" y2="309.15" stroke="#9a2030" stroke-width="1.0"/>
<line x1="58" y1="317.05" x2="58" y2="319.65" stroke="#9a2030" stroke-width="1.0"/>
<line x1="62" y1="330.54" x2="62" y2="333.14" stroke="#9a2030" stroke-width="1.0"/>
<line x1="66" y1="334.93" x2="66" y2="337.53" stroke="#9a2030" stroke-width="1.0"/>
<line x1="70" y1="337.08" x2="70" y2="339.68" stroke="#9a2030" stroke-width="1.0"/>
<line x1="74" y1="338.84" x2="74" y2="341.44" stroke="#9a2030" stroke-width="1.0"/>
<line x1="80" y1="339.63" x2="80" y2="342.23" stroke="#9a2030" stroke-width="1.0"/>
<line x1="86" y1="340.76" x2="86" y2="343.36" stroke="#9a2030" stroke-width="1.0"/>
<line x1="92" y1="342.03" x2="92" y2="344.63" stroke="#9a2030" stroke-width="1.0"/>
<line x1="98" y1="343.45" x2="98" y2="346.05" stroke="#9a2030" stroke-width="1.0"/>
<line x1="104" y1="344.34" x2="104" y2="346.94" stroke="#9a2030" stroke-width="1.0"/>
<line x1="110" y1="344.41" x2="110" y2="347.01" stroke="#9a2030" stroke-width="1.0"/>
<line x1="134.3" y1="345.8" x2="134.3" y2="348.4" stroke="#9a2030" stroke-width="1.0"/>
<line x1="141" y1="345.8" x2="141" y2="348.4" stroke="#9a2030" stroke-width="1.0"/>
<line x1="143.7" y1="345.8" x2="143.7" y2="348.4" stroke="#9a2030" stroke-width="1.0"/>
<line x1="150.4" y1="345.8" x2="150.4" y2="348.4" stroke="#9a2030" stroke-width="1.0"/>
<line x1="165.3" y1="345.8" x2="165.3" y2="348.4" stroke="#9a2030" stroke-width="1.0"/>
<line x1="168" y1="345.8" x2="168" y2="348.4" stroke="#9a2030" stroke-width="1.0"/>
<line x1="177.4" y1="345.8" x2="177.4" y2="348.4" stroke="#9a2030" stroke-width="1.0"/>
<line x1="189.5" y1="345.8" x2="189.5" y2="348.4" stroke="#9a2030" stroke-width="1.0"/>
<line x1="219.5" y1="354.8" x2="219.5" y2="357.4" stroke="#9a2030" stroke-width="1.0"/>
<line x1="239.4" y1="354.8" x2="239.4" y2="357.4" stroke="#9a2030" stroke-width="1.0"/>
<line x1="112.6" y1="263.0" x2="123" y2="263.0" stroke="#2c3560" stroke-width="1.7"/>
<line x1="112.6" y1="269.7" x2="123" y2="269.7" stroke="#985055" stroke-width="1.6"/>
<text x="125.3" y="265" font-size="7.1" text-anchor="start" font-weight="normal" fill="#151515" stroke="#151515" stroke-width="0.22" >ts-AML</text>
<text x="125.3" y="271.7" font-size="7.1" text-anchor="start" font-weight="normal" fill="#151515" stroke="#151515" stroke-width="0.22" >t-AML</text>
<text x="170.6" y="257.6" font-size="7.3" text-anchor="middle" font-weight="normal" fill="#151515" stroke="#151515" stroke-width="0.22" >Tot</text>
<text x="193" y="257.6" font-size="7.3" text-anchor="middle" font-weight="normal" fill="#151515" stroke="#151515" stroke-width="0.22" >Alive</text>
<text x="220.7" y="257.6" font-size="7.3" text-anchor="middle" font-weight="normal" fill="#151515" stroke="#151515" stroke-width="0.22" >Med OS</text>
<text x="170.6" y="264.6" font-size="7.3" text-anchor="middle" font-weight="normal" fill="#151515" stroke="#151515" stroke-width="0.22" >51</text>
<text x="193" y="264.6" font-size="7.3" text-anchor="middle" font-weight="normal" fill="#151515" stroke="#151515" stroke-width="0.22" >9</text>
<text x="220.7" y="264.6" font-size="7.3" text-anchor="middle" font-weight="normal" fill="#151515" stroke="#151515" stroke-width="0.22" >5 m</text>
<text x="170.6" y="271.3" font-size="7.3" text-anchor="middle" font-weight="normal" fill="#151515" stroke="#151515" stroke-width="0.22" >144</text>
<text x="193" y="271.3" font-size="7.3" text-anchor="middle" font-weight="normal" fill="#151515" stroke="#151515" stroke-width="0.22" >40</text>
<text x="220.7" y="271.3" font-size="7.3" text-anchor="middle" font-weight="normal" fill="#151515" stroke="#151515" stroke-width="0.22" >11.2</text>
<text x="178.7" y="285.5" font-size="7.1" text-anchor="start" font-weight="normal" fill="#151515" stroke="#151515" stroke-width="0.22" >p=0.002</text>
<text x="263.1" y="238.6" font-size="12.4" text-anchor="start" font-weight="bold" fill="#000" stroke="#000" stroke-width="0.6" >D</text>
<line x1="296.1" y1="245.7" x2="296.1" y2="377.4" stroke="#000" stroke-width="1.5"/>
<line x1="292.6" y1="373.9" x2="500.8" y2="373.9" stroke="#000" stroke-width="1.5"/>
<text x="289.4" y="376.8" font-size="8.2" text-anchor="end" font-weight="normal" fill="#1a1a1a" stroke="#1a1a1a" stroke-width="0.22" >0.0</text>
<line x1="292.6" y1="361.73" x2="296.1" y2="361.73" stroke="#000" stroke-width="1.3"/>
<text x="289.4" y="364.63" font-size="8.2" text-anchor="end" font-weight="normal" fill="#1a1a1a" stroke="#1a1a1a" stroke-width="0.22" >0.1</text>
<line x1="292.6" y1="349.56" x2="296.1" y2="349.56" stroke="#000" stroke-width="1.3"/>
<text x="289.4" y="352.46" font-size="8.2" text-anchor="end" font-weight="normal" fill="#1a1a1a" stroke="#1a1a1a" stroke-width="0.22" >0.2</text>
<line x1="292.6" y1="337.39" x2="296.1" y2="337.39" stroke="#000" stroke-width="1.3"/>
<text x="289.4" y="340.29" font-size="8.2" text-anchor="end" font-weight="normal" fill="#1a1a1a" stroke="#1a1a1a" stroke-width="0.22" >0.3</text>
<line x1="292.6" y1="325.22" x2="296.1" y2="325.22" stroke="#000" stroke-width="1.3"/>
<text x="289.4" y="328.12" font-size="8.2" text-anchor="end" font-weight="normal" fill="#1a1a1a" stroke="#1a1a1a" stroke-width="0.22" >0.4</text>
<line x1="292.6" y1="313.05" x2="296.1" y2="313.05" stroke="#000" stroke-width="1.3"/>
<text x="289.4" y="315.95" font-size="8.2" text-anchor="end" font-weight="normal" fill="#1a1a1a" stroke="#1a1a1a" stroke-width="0.22" >0.5</text>
<line x1="292.6" y1="300.88" x2="296.1" y2="300.88" stroke="#000" stroke-width="1.3"/>
<text x="289.4" y="303.78" font-size="8.2" text-anchor="end" font-weight="normal" fill="#1a1a1a" stroke="#1a1a1a" stroke-width="0.22" >0.6</text>
<line x1="292.6" y1="288.71" x2="296.1" y2="288.71" stroke="#000" stroke-width="1.3"/>
<text x="289.4" y="291.61" font-size="8.2" text-anchor="end" font-weight="normal" fill="#1a1a1a" stroke="#1a1a1a" stroke-width="0.22" >0.7</text>
<line x1="292.6" y1="276.54" x2="296.1" y2="276.54" stroke="#000" stroke-width="1.3"/>
<text x="289.4" y="279.44" font-size="8.2" text-anchor="end" font-weight="normal" fill="#1a1a1a" stroke="#1a1a1a" stroke-width="0.22" >0.8</text>
<line x1="292.6" y1="264.37" x2="296.1" y2="264.37" stroke="#000" stroke-width="1.3"/>
<text x="289.4" y="267.27" font-size="8.2" text-anchor="end" font-weight="normal" fill="#1a1a1a" stroke="#1a1a1a" stroke-width="0.22" >0.9</text>
<line x1="292.6" y1="252.2" x2="296.1" y2="252.2" stroke="#000" stroke-width="1.3"/>
<text x="289.4" y="255.1" font-size="8.2" text-anchor="end" font-weight="normal" fill="#1a1a1a" stroke="#1a1a1a" stroke-width="0.22" >1.0</text>
<text x="296.1" y="388.7" font-size="8.5" text-anchor="middle" font-weight="normal" fill="#1a1a1a" stroke="#1a1a1a" stroke-width="0.22" >0</text>
<line x1="336.4" y1="373.9" x2="336.4" y2="377.4" stroke="#000" stroke-width="1.3"/>
<text x="336.4" y="388.7" font-size="8.5" text-anchor="middle" font-weight="normal" fill="#1a1a1a" stroke="#1a1a1a" stroke-width="0.22" >12</text>
<line x1="376.7" y1="373.9" x2="376.7" y2="377.4" stroke="#000" stroke-width="1.3"/>
<text x="376.7" y="388.7" font-size="8.5" text-anchor="middle" font-weight="normal" fill="#1a1a1a" stroke="#1a1a1a" stroke-width="0.22" >24</text>
<line x1="417" y1="373.9" x2="417" y2="377.4" stroke="#000" stroke-width="1.3"/>
<text x="417" y="388.7" font-size="8.5" text-anchor="middle" font-weight="normal" fill="#1a1a1a" stroke="#1a1a1a" stroke-width="0.22" >36</text>
<line x1="457.3" y1="373.9" x2="457.3" y2="377.4" stroke="#000" stroke-width="1.3"/>
<text x="457.3" y="388.7" font-size="8.5" text-anchor="middle" font-weight="normal" fill="#1a1a1a" stroke="#1a1a1a" stroke-width="0.22" >48</text>
<line x1="497.6" y1="373.9" x2="497.6" y2="377.4" stroke="#000" stroke-width="1.3"/>
<text x="497.6" y="388.7" font-size="8.5" text-anchor="middle" font-weight="normal" fill="#1a1a1a" stroke="#1a1a1a" stroke-width="0.22" >60</text>
<text transform="translate(270.6 309.6) rotate(-90) scale(0.59 1)" x="0" y="0" font-size="10" font-weight="bold" text-anchor="middle" fill="#111" stroke="#111" stroke-width="0.2">Overall survival probability</text>
<text transform="translate(397.1 403.1) scale(0.61 1)" x="0" y="0" font-size="10" font-weight="bold" text-anchor="middle" fill="#111" stroke="#111" stroke-width="0.2">Time (in months)</text>
<polyline points="296.1,252.2 297,252.2 297,255 297.5,255 297.5,263.7 299,263.7 299,265.9 300.4,265.9 300.4,268 301.1,268 301.1,279.4 301.9,279.4 301.9,293.7 303.3,293.7 303.3,296.6 304.7,296.6 304.7,302.3 305.3,302.3 305.3,303.6 306,303.6 306,316.4 309.6,316.4 309.6,321.4 312.4,321.4 312.4,325 314.6,325 314.6,327.1 315.3,327.1 315.3,335.7 319.6,335.7 319.6,337.9 321.7,337.9 321.7,340.7 326,340.7 326,341.4 328.1,341.4 328.1,344.3 330.3,344.3 330.3,347 334.8,347 334.8,350.6 338.7,350.6 338.7,353.5 343.5,353.5 343.5,356.3 346.3,356.3 346.3,359.2 360.8,359.2 360.8,359.2 360.8,359.2 360.8,365.2 432,365.2 432,365.2 432,365.2 432,373.9" fill="none" stroke="#b8323c" stroke-width="1.4" stroke-linejoin="round" />
<polyline points="296.1,252.2 330.6,252.2 330.6,282.5 332.3,282.5 332.3,297 337.3,297 337.3,312.9 338.9,312.9 338.9,328.3 344.3,328.3 344.3,343.5 489,343.5" fill="none" stroke="#34389a" stroke-width="1.25" stroke-linejoin="round" />
<line x1="308.6" y1="250.7" x2="308.6" y2="253.7" stroke="#2f3a9a" stroke-width="1.0"/>
<line x1="395.7" y1="342" x2="395.7" y2="345" stroke="#2f3a9a" stroke-width="1.0"/>
<line x1="489" y1="342" x2="489" y2="345" stroke="#2f3a9a" stroke-width="1.0"/>
<line x1="374.6" y1="363.7" x2="374.6" y2="366.7" stroke="#9a2030" stroke-width="1.0"/>
<line x1="360.8" y1="287.4" x2="371.5" y2="287.4" stroke="#323282" stroke-width="1.5"/>
<line x1="360.8" y1="293.9" x2="371.5" y2="293.9" stroke="#8e4a52" stroke-width="1.6"/>
<text x="374" y="281.5" font-size="7" text-anchor="start" font-weight="normal" fill="#151515" stroke="#151515" stroke-width="0.22" >ts-AML</text>
<text x="374" y="288.8" font-size="7" text-anchor="start" font-weight="normal" fill="#151515" stroke="#151515" stroke-width="0.22" >SCT</text>
<text x="374" y="295.7" font-size="7" text-anchor="start" font-weight="normal" fill="#151515" stroke="#151515" stroke-width="0.22" >NoSCT</text>
<text x="409.1" y="281.5" font-size="7.3" text-anchor="middle" font-weight="normal" fill="#151515" stroke="#151515" stroke-width="0.22" >Tot</text>
<text x="428" y="281.5" font-size="7.3" text-anchor="middle" font-weight="normal" fill="#151515" stroke="#151515" stroke-width="0.22" >Alive</text>
<text x="447.5" y="281.5" font-size="7.3" text-anchor="middle" font-weight="normal" fill="#151515" stroke="#151515" stroke-width="0.22" >Med</text>
<text x="471.8" y="281.5" font-size="7.3" text-anchor="middle" font-weight="normal" fill="#151515" stroke="#151515" stroke-width="0.22" >1-Yr</text>
<text x="409.1" y="288.5" font-size="7.3" text-anchor="middle" font-weight="normal" fill="#151515" stroke="#151515" stroke-width="0.22" >9</text>
<text x="428" y="288.5" font-size="7.3" text-anchor="middle" font-weight="normal" fill="#151515" stroke="#151515" stroke-width="0.22" >3</text>
<text x="447.5" y="288.5" font-size="7.3" text-anchor="middle" font-weight="normal" fill="#151515" stroke="#151515" stroke-width="0.22" >12.4m</text>
<text x="471.8" y="288.5" font-size="7.3" text-anchor="middle" font-weight="normal" fill="#151515" stroke="#151515" stroke-width="0.22" >63%</text>
<text x="409.1" y="296.1" font-size="7.3" text-anchor="middle" font-weight="normal" fill="#151515" stroke="#151515" stroke-width="0.22" >42</text>
<text x="428" y="296.1" font-size="7.3" text-anchor="middle" font-weight="normal" fill="#151515" stroke="#151515" stroke-width="0.22" >6</text>
<text x="447.5" y="296.1" font-size="7.3" text-anchor="middle" font-weight="normal" fill="#151515" stroke="#151515" stroke-width="0.22" >2.9m</text>
<text x="471.8" y="296.1" font-size="7.3" text-anchor="middle" font-weight="normal" fill="#151515" stroke="#151515" stroke-width="0.22" >17%</text>
<text x="417.8" y="309.2" font-size="7" text-anchor="start" font-weight="normal" fill="#151515" stroke="#151515" stroke-width="0.22" >p&lt;0.001</text>
</svg>
<svg id="o" width="520" height="420" viewBox="0 0 520 420"><path d="M0 0H520V420H0Z M1.6 1.6V418.2H518.2V1.6Z" fill="#000" fill-rule="evenodd"/></svg>
</div></body></html>
